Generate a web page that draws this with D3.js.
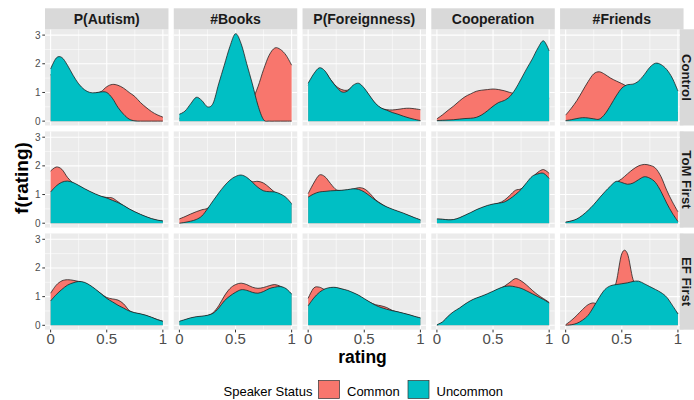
<!DOCTYPE html>
<html>
<head>
<meta charset="utf-8">
<script src="https://cdn.jsdelivr.net/npm/d3@7"></script>
<style>
body { margin: 0; background: #fff; }
svg { display: block; font-family: "Liberation Sans", Arial, sans-serif; }
</style>
</head>
<body>
<svg id="chart" width="694" height="400"></svg>
<script>
// facets
var measures = ["P(Autism)", "#Books", "P(Foreignness)", "Cooperation", "#Friends"];
var conditions = ["Control", "ToM First", "EF First"];
var statuses = ["Common", "Uncommon"];

var ratingGrid = [0, 0.05, 0.1, 0.15, 0.2, 0.25, 0.3, 0.35, 0.4, 0.45, 0.5,
	0.55, 0.6, 0.65, 0.7, 0.75, 0.8, 0.85, 0.9, 0.95, 1];

var xTicks = [0, 0.5, 1];
var yTicks = [0, 1, 2, 3];

// density f(rating), one list per measure (same order as measures)
var controlCommon = [
	[1.6, 1.9, 1.9, 1.7, 1.4, 1.15, 1.0, 0.95, 0.98, 1.03, 1.2, 1.28, 1.25, 1.15, 1.0, 0.86, 0.65, 0.48, 0.33, 0.22, 0.14],
	[0.1, 0.15, 0.2, 0.25, 0.3, 0.35, 0.4, 0.42, 0.45, 0.45, 0.45, 0.45, 0.55, 0.75, 1.2, 1.8, 2.3, 2.55, 2.5, 2.3, 1.95],
	[1.25, 1.6, 1.82, 1.72, 1.45, 1.22, 1.1, 1.08, 1.2, 1.28, 1.12, 0.85, 0.6, 0.45, 0.4, 0.39, 0.41, 0.44, 0.45, 0.43, 0.4],
	[0.08, 0.22, 0.38, 0.53, 0.7, 0.85, 0.95, 1.04, 1.08, 1.1, 1.12, 1.1, 1.06, 1.0, 0.95, 0.9, 0.85, 0.8, 0.8, 0.8, 0.8],
	[0.21, 0.45, 0.72, 1.05, 1.38, 1.65, 1.72, 1.63, 1.5, 1.4, 1.31, 1.2, 1.05, 0.95, 0.85, 0.75, 0.65, 0.55, 0.45, 0.35, 0.3]
];
var controlUncommon = [
	[1.82, 2.2, 2.22, 1.95, 1.6, 1.3, 1.1, 1.0, 0.99, 1.02, 1.0, 0.8, 0.48, 0.24, 0.07, 0.01, 0, 0, 0, 0, 0],
	[0.24, 0.35, 0.6, 0.83, 0.72, 0.5, 0.62, 1.3, 1.95, 2.6, 3.05, 2.7, 2.0, 1.3, 0.55, 0.05, 0, 0, 0, 0, 0],
	[1.32, 1.65, 1.86, 1.75, 1.45, 1.2, 1.02, 1.05, 1.25, 1.32, 1.15, 0.88, 0.62, 0.46, 0.38, 0.3, 0.24, 0.17, 0.11, 0.06, 0.02],
	[0.02, 0.03, 0.04, 0.05, 0.07, 0.09, 0.1, 0.13, 0.22, 0.36, 0.52, 0.65, 0.72, 0.86, 1.12, 1.47, 1.83, 2.17, 2.55, 2.8, 2.45],
	[0.02, 0.05, 0.09, 0.12, 0.11, 0.08, 0.07, 0.25, 0.55, 0.88, 1.15, 1.27, 1.29, 1.4, 1.62, 1.88, 2.02, 1.97, 1.8, 1.5, 1.05]
];
var tomCommon = [
	[1.82, 1.96, 1.88, 1.6, 1.4, 1.3, 1.19, 1.09, 1.0, 0.93, 0.9, 0.88, 0.75, 0.61, 0.49, 0.39, 0.3, 0.22, 0.15, 0.1, 0.07],
	[0.15, 0.23, 0.32, 0.4, 0.47, 0.52, 0.7, 0.98, 1.22, 1.42, 1.55, 1.6, 1.55, 1.45, 1.46, 1.4, 1.25, 1.08, 0.98, 0.85, 0.65],
	[1.03, 1.4, 1.68, 1.62, 1.38, 1.17, 1.14, 1.16, 1.19, 1.24, 1.2, 1.04, 0.82, 0.68, 0.56, 0.47, 0.4, 0.33, 0.26, 0.18, 0.11],
	[0.14, 0.13, 0.11, 0.12, 0.18, 0.26, 0.35, 0.45, 0.53, 0.6, 0.65, 0.7, 0.8, 0.97, 1.15, 1.2, 1.38, 1.6, 1.78, 1.87, 1.74],
	[0.03, 0.07, 0.13, 0.26, 0.42, 0.62, 0.85, 1.06, 1.27, 1.42, 1.55, 1.72, 1.88, 2.0, 2.05, 2.02, 1.92, 1.62, 1.15, 0.75, 0.4]
];
var tomUncommon = [
	[1.09, 1.3, 1.43, 1.47, 1.42, 1.32, 1.21, 1.11, 1.02, 0.94, 0.88, 0.8, 0.72, 0.62, 0.5, 0.4, 0.31, 0.23, 0.16, 0.11, 0.08],
	[0.0, 0.03, 0.07, 0.13, 0.25, 0.5, 0.78, 1.05, 1.3, 1.5, 1.63, 1.68, 1.6, 1.43, 1.25, 1.13, 1.1, 1.09, 1.02, 0.9, 0.68],
	[0.91, 1.02, 1.09, 1.11, 1.13, 1.14, 1.15, 1.17, 1.2, 1.18, 1.09, 0.95, 0.8, 0.67, 0.57, 0.49, 0.42, 0.35, 0.27, 0.19, 0.12],
	[0.15, 0.14, 0.12, 0.13, 0.19, 0.28, 0.37, 0.47, 0.55, 0.62, 0.67, 0.7, 0.74, 0.85, 1.0, 1.18, 1.42, 1.64, 1.72, 1.74, 1.56],
	[0.04, 0.08, 0.15, 0.28, 0.45, 0.65, 0.88, 1.1, 1.3, 1.46, 1.42, 1.36, 1.4, 1.52, 1.62, 1.57, 1.42, 1.1, 0.7, 0.35, 0.06]
];
var efCommon = [
	[1.12, 1.4, 1.55, 1.59, 1.57, 1.53, 1.48, 1.38, 1.24, 1.1, 0.97, 0.92, 0.88, 0.75, 0.52, 0.43, 0.39, 0.34, 0.27, 0.2, 0.14],
	[0.12, 0.18, 0.24, 0.28, 0.3, 0.34, 0.44, 0.68, 1.02, 1.28, 1.42, 1.47, 1.42, 1.33, 1.29, 1.32, 1.38, 1.42, 1.36, 1.25, 1.08],
	[0.94, 1.3, 1.33, 1.25, 1.3, 1.3, 1.26, 1.2, 1.12, 1.03, 0.91, 0.8, 0.72, 0.68, 0.62, 0.52, 0.46, 0.41, 0.36, 0.3, 0.25],
	[0.0, 0.1, 0.3, 0.45, 0.58, 0.72, 0.84, 0.93, 1.0, 1.08, 1.17, 1.26, 1.36, 1.5, 1.63, 1.55, 1.4, 1.22, 1.06, 0.93, 0.8],
	[0.02, 0.17, 0.35, 0.55, 0.72, 0.78, 0.7, 0.8, 1.0, 1.5, 2.5, 2.5, 1.6, 1.3, 1.2, 1.1, 1.0, 0.9, 0.75, 0.6, 0.4]
];
var efUncommon = [
	[0.85, 1.07, 1.25, 1.4, 1.48, 1.53, 1.5, 1.4, 1.26, 1.1, 0.94, 0.82, 0.7, 0.6, 0.5, 0.44, 0.4, 0.35, 0.28, 0.2, 0.14],
	[0.14, 0.2, 0.26, 0.3, 0.32, 0.35, 0.42, 0.6, 0.85, 1.02, 1.15, 1.24, 1.22, 1.15, 1.12, 1.18, 1.28, 1.33, 1.35, 1.28, 1.09],
	[0.68, 0.95, 1.15, 1.27, 1.32, 1.32, 1.27, 1.22, 1.14, 1.05, 0.93, 0.81, 0.7, 0.62, 0.56, 0.51, 0.47, 0.42, 0.37, 0.31, 0.26],
	[0.02, 0.12, 0.32, 0.48, 0.6, 0.74, 0.86, 0.95, 1.02, 1.1, 1.19, 1.28, 1.35, 1.37, 1.34, 1.29, 1.2, 1.1, 1.0, 0.9, 0.78],
	[0.0, 0.02, 0.07, 0.18, 0.35, 0.65, 0.98, 1.25, 1.38, 1.42, 1.45, 1.48, 1.53, 1.54, 1.45, 1.35, 1.25, 1.14, 0.98, 0.7, 0.4]
];

// rows of the facet grid, built from the arrays above
var rows = [
	{ name: conditions[0], series: [controlCommon, controlUncommon] },
	{ name: conditions[1], series: [tomCommon, tomUncommon] },
	{ name: conditions[2], series: [efCommon, efUncommon] }
];

var svg = d3.select("#chart");

// layout
var plotLeft = 45, plotRight = 680, plotTop = 29.3, plotBottom = 326.7;
var spacing = 4.4;
var stripSize = 21;
var panelW = (plotRight - plotLeft - spacing * (measures.length - 1)) / measures.length;
var panelH = (plotBottom - plotTop - spacing * (conditions.length - 1)) / conditions.length;

var colX = d3.scaleBand().domain(measures)
	.range([plotLeft, plotRight + spacing]).paddingInner(spacing / ((plotRight - plotLeft + spacing) / measures.length));
var rowY = d3.scaleBand().domain(conditions)
	.range([plotTop, plotBottom + spacing]).paddingInner(spacing / ((plotBottom - plotTop + spacing) / conditions.length));

var yMax = d3.max(rows, r => d3.max(r.series, s => d3.max(s, m => d3.max(m))));

var x = d3.scaleLinear().domain([-0.05, 1.05]).range([0, panelW]);
var y = d3.scaleLinear().domain([-0.05 * yMax, 1.05 * yMax]).range([panelH, 0]);

var fillColor = d3.scaleOrdinal().domain(statuses).range(["#F8766D", "#00BFC4"]);

var area = d3.area()
	.x((d, i) => x(ratingGrid[i]))
	.y0(y(0))
	.y1(d => y(d))
	.curve(d3.curveCardinal);
var line = d3.line()
	.x((d, i) => x(ratingGrid[i]))
	.y(d => y(d))
	.curve(d3.curveCardinal);

var xMinor = [0.25, 0.75];
var yMinor = [0.5, 1.5, 2.5];

rows.forEach(function (row, ri) {
	measures.forEach(function (m, ci) {
		var g = svg.append("g")
			.attr("transform", "translate(" + colX(m) + "," + rowY(row.name) + ")");

		g.append("rect").attr("width", panelW).attr("height", panelH).attr("fill", "#EBEBEB");

		// grid
		g.selectAll(".xminor").data(xMinor).join("line")
			.attr("x1", d => x(d)).attr("x2", d => x(d)).attr("y1", 0).attr("y2", panelH)
			.attr("stroke", "#fff").attr("stroke-width", 0.55);
		g.selectAll(".yminor").data(yMinor).join("line")
			.attr("y1", d => y(d)).attr("y2", d => y(d)).attr("x1", 0).attr("x2", panelW)
			.attr("stroke", "#fff").attr("stroke-width", 0.55);
		g.selectAll(".xmajor").data(xTicks).join("line")
			.attr("x1", d => x(d)).attr("x2", d => x(d)).attr("y1", 0).attr("y2", panelH)
			.attr("stroke", "#fff").attr("stroke-width", 1.1);
		g.selectAll(".ymajor").data(yTicks).join("line")
			.attr("y1", d => y(d)).attr("y2", d => y(d)).attr("x1", 0).attr("x2", panelW)
			.attr("stroke", "#fff").attr("stroke-width", 1.1);

		// densities: Common first, Uncommon drawn over it
		statuses.forEach(function (s, si) {
			var vals = row.series[si][ci];
			g.append("path").attr("d", area(vals)).attr("fill", fillColor(s));
			g.append("path").attr("d", line(vals)).attr("fill", "none")
				.attr("stroke", "#1a1a1a").attr("stroke-width", 0.75);
		});

		// left axis
		if (ci === 0) {
			var ya = g.append("g");
			ya.selectAll("line").data(yTicks).join("line")
				.attr("x1", -2.7).attr("x2", 0).attr("y1", d => y(d)).attr("y2", d => y(d))
				.attr("stroke", "#333").attr("stroke-width", 1);
			ya.selectAll("text").data(yTicks).join("text")
				.attr("x", -4.5).attr("y", d => y(d)).attr("dy", "0.35em")
				.attr("text-anchor", "end").attr("font-size", 10).attr("fill", "#4D4D4D")
				.text(d => d);
		}
		// bottom axis
		if (ri === rows.length - 1) {
			var xa = g.append("g").attr("transform", "translate(0," + panelH + ")");
			xa.selectAll("line").data(xTicks).join("line")
				.attr("x1", d => x(d)).attr("x2", d => x(d)).attr("y1", 0).attr("y2", 2.7)
				.attr("stroke", "#333").attr("stroke-width", 1);
			xa.selectAll("text").data(xTicks).join("text")
				.attr("x", d => x(d)).attr("y", 14.1)
				.attr("text-anchor", "middle").attr("font-size", 15).attr("fill", "#4D4D4D")
				.text(d => d);
		}
	});
});

// top strips
measures.forEach(function (m) {
	svg.append("rect").attr("x", colX(m)).attr("y", plotTop - stripSize).attr("width", panelW).attr("height", stripSize)
		.attr("fill", "#D9D9D9");
	svg.append("text").attr("x", colX(m) + panelW / 2).attr("y", plotTop - 5.3)
		.attr("text-anchor", "middle").attr("font-size", 14).attr("font-weight", "bold").attr("fill", "#1A1A1A")
		.text(m);
});

// right strips (partly outside the picture, as in the original)
conditions.forEach(function (c) {
	svg.append("rect").attr("x", plotRight).attr("y", rowY(c)).attr("width", stripSize).attr("height", panelH)
		.attr("fill", "#D9D9D9");
	svg.append("text")
		.attr("transform", "translate(" + (plotRight + 2) + "," + (rowY(c) + panelH / 2) + ") rotate(90)")
		.attr("text-anchor", "middle").attr("font-size", 13.2).attr("font-weight", "bold").attr("fill", "#1A1A1A")
		.text(c);
});

// axis titles
svg.append("text").attr("x", (plotLeft + plotRight) / 2).attr("y", 362.5)
	.attr("text-anchor", "middle").attr("font-size", 17.5).attr("font-weight", "bold").attr("fill", "#000")
	.text("rating");
svg.append("text")
	.attr("transform", "translate(28," + (plotTop + plotBottom) / 2 + ") rotate(-90)")
	.attr("text-anchor", "middle").attr("font-size", 19).attr("font-weight", "bold").attr("fill", "#000")
	.text("f(rating)");

// legend
var legend = svg.append("g");
legend.append("text").attr("x", 223.5).attr("y", 395.5).attr("font-size", 13).attr("fill", "#000")
	.text("Speaker Status");
var keyX = [318.5, 408];
statuses.forEach(function (s, i) {
	legend.append("rect").attr("x", keyX[i]).attr("y", 380.5).attr("width", 21).attr("height", 18)
		.attr("fill", fillColor(s)).attr("stroke", "#333").attr("stroke-width", 0.7);
	legend.append("text").attr("x", keyX[i] + 28.5).attr("y", 395.5).attr("font-size", 13).attr("fill", "#000")
		.text(s);
});
</script>
</body>
</html>
